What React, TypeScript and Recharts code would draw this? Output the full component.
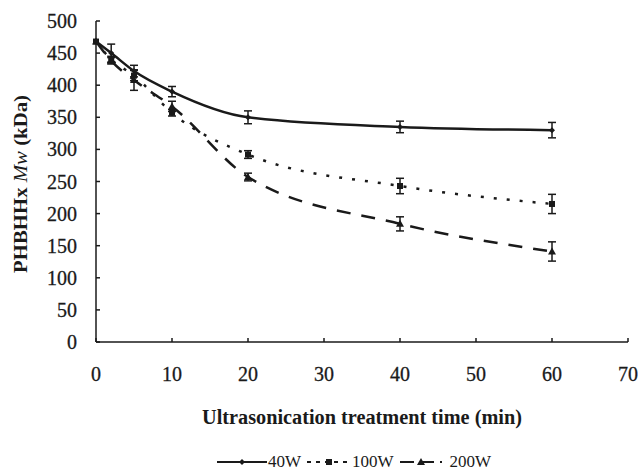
import { LineChart, Line, XAxis, YAxis, ErrorBar } from 'recharts'

const times = [0, 2, 5, 10, 20, 40, 60]
const mw40 = [468, 450, 422, 390, 350, 335, 330]
const err40 = [0, 14, 9, 8, 10, 9, 12]
const mw100 = [468, 440, 415, 357, 292, 243, 215]
const err100 = [0, 5, 8, 5, 6, 12, 15]
const mw200 = [468, 438, 408, 367, 257, 184, 141]
const err200 = [0, 5, 16, 8, 6, 11, 15]
const xTicks = [0, 10, 20, 30, 40, 50, 60, 70]
const yTicks = [0, 50, 100, 150, 200, 250, 300, 350, 400, 450, 500]

const data = times.map((t, i) => ({
  t,
  w40: mw40[i],
  e40: err40[i],
  w100: mw100[i],
  e100: err100[i],
  w200: mw200[i],
  e200: err200[i],
}))

const font = '"Liberation Serif", "Times New Roman", serif'
const ink = '#1a1a1a'

const DiamondDot = (props: any) => {
  const { cx, cy } = props
  if (cx == null || cy == null) return null
  return <path d={`M${cx},${cy - 3}L${cx + 3},${cy}L${cx},${cy + 3}L${cx - 3},${cy}Z`} fill={ink} />
}

const SquareDot = (props: any) => {
  const { cx, cy } = props
  if (cx == null || cy == null) return null
  return <rect x={cx - 3} y={cy - 3} width={6} height={6} fill={ink} />
}

const TriangleDot = (props: any) => {
  const { cx, cy } = props
  if (cx == null || cy == null) return null
  return <path d={`M${cx},${cy - 4}L${cx + 4},${cy + 3}L${cx - 4},${cy + 3}Z`} fill={ink} />
}

// tick labels drawn as serif text (recharts default tick ignores the family here)
const AxisTick = (props: any) => {
  const { x, y, payload, textAnchor, verticalAnchor } = props
  return (
    <text
      x={x}
      y={y}
      textAnchor={textAnchor}
      dominantBaseline={verticalAnchor === 'start' ? 'hanging' : 'central'}
      style={{ fontFamily: font, fontSize: 20 }}
      fill={ink}
      stroke={ink}
      strokeWidth={0.3}
    >
      {payload.value}
    </text>
  )
}

const legendItems = [
  { name: '40W', dash: undefined, marker: 'diamond', lineW: 50 },
  { name: '100W', dash: '4 5', marker: 'square', lineW: 44 },
  { name: '200W', dash: '14 6', marker: 'triangle', lineW: 42 },
]

const ChartLegend = () => (
  <div
    style={{
      position: 'absolute',
      left: 217,
      top: 452,
      display: 'flex',
      alignItems: 'center',
      fontFamily: font,
      fontSize: 17,
      color: ink,
      whiteSpace: 'nowrap',
    }}
  >
    {legendItems.map((it, i) => (
      <span key={it.name} style={{ display: 'inline-flex', alignItems: 'center', marginRight: i === 2 ? 0 : 6 }}>
        <svg width={it.lineW} height={12} style={{ marginRight: i === 2 ? 8 : 1 }}>
          <line x1={0} y1={6} x2={it.lineW} y2={6} stroke={ink} strokeWidth={2} strokeDasharray={it.dash} />
          {it.marker === 'diamond' && <DiamondDot cx={it.lineW / 2} cy={6} />}
          {it.marker === 'square' && <SquareDot cx={it.lineW / 2} cy={6} />}
          {it.marker === 'triangle' && <TriangleDot cx={it.lineW / 2} cy={6} />}
        </svg>
        <span>{it.name}</span>
      </span>
    ))}
  </div>
)

const YLabel = () => (
  <text
    x={21}
    y={184}
    transform="rotate(-90, 21, 184)"
    textAnchor="middle"
    dominantBaseline="central"
    style={{ fontFamily: font, fontSize: 18, fontWeight: 'bold' }}
    fill={ink}
    textLength={178}
    lengthAdjust="spacingAndGlyphs"
  >
    PHBHHx <tspan fontStyle="italic" fontWeight="normal">Mw</tspan> (kDa)
  </text>
)

const XLabel = () => (
  <text
    x={362}
    y={417}
    textAnchor="middle"
    dominantBaseline="central"
    style={{ fontFamily: font, fontSize: 20, fontWeight: 'bold' }}
    fill={ink}
    textLength={320}
    lengthAdjust="spacingAndGlyphs"
  >
    Ultrasonication treatment time (min)
  </text>
)

export default function App() {
  return (
    <div
      style={{
        position: 'absolute',
        left: 0,
        top: 0,
        width: 640,
        height: 472,
        background: '#fff',
        fontFamily: font,
      }}
    >
      <LineChart
        width={640}
        height={472}
        data={data}
        margin={{ top: 21, right: 12, left: 0, bottom: 0 }}
      >
        <XAxis
          type="number"
          dataKey="t"
          domain={[0, 70]}
          ticks={xTicks}
          height={130}
          stroke={ink}
          strokeWidth={1.5}
          tickSize={-4}
          tickMargin={29}
          tick={<AxisTick />}
          label={<XLabel />}
        />
        <YAxis
          type="number"
          domain={[0, 500]}
          ticks={yTicks}
          width={96}
          stroke={ink}
          strokeWidth={1.5}
          tickSize={-4}
          tickMargin={23}
          tick={<AxisTick />}
          label={<YLabel />}
        />
        <Line
          type="monotone"
          dataKey="w40"
          name="40W"
          stroke={ink}
          strokeWidth={2.5}
          dot={<DiamondDot />}
          isAnimationActive={false}
        >
          <ErrorBar dataKey="e40" width={4} strokeWidth={1.5} stroke={ink} direction="y" />
        </Line>
        <Line
          type="monotone"
          dataKey="w100"
          name="100W"
          stroke={ink}
          strokeWidth={2.5}
          strokeDasharray="3 10"
          dot={<SquareDot />}
          isAnimationActive={false}
        >
          <ErrorBar dataKey="e100" width={4} strokeWidth={1.5} stroke={ink} direction="y" />
        </Line>
        <Line
          type="monotone"
          dataKey="w200"
          name="200W"
          stroke={ink}
          strokeWidth={2.5}
          strokeDasharray="14 11"
          dot={<TriangleDot />}
          isAnimationActive={false}
        >
          <ErrorBar dataKey="e200" width={4} strokeWidth={1.5} stroke={ink} direction="y" />
        </Line>
      </LineChart>
      <ChartLegend />
    </div>
  )
}
